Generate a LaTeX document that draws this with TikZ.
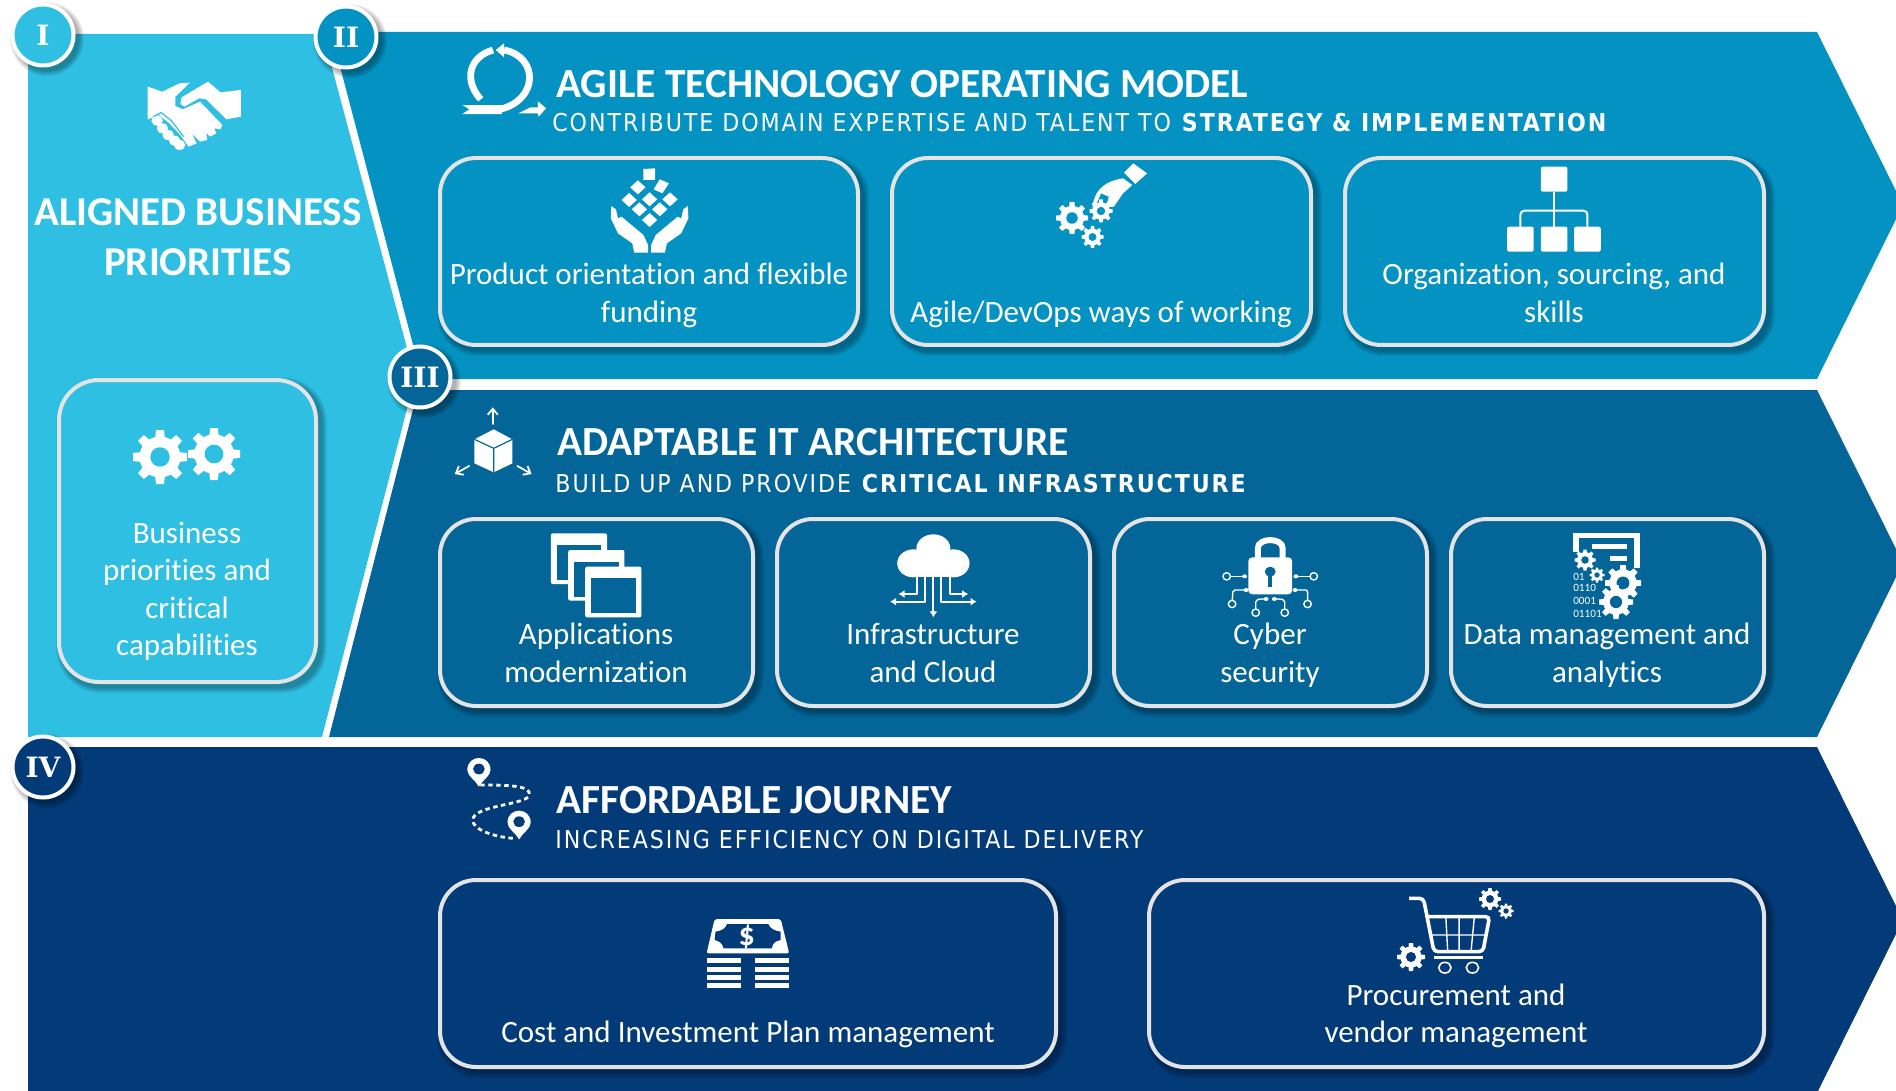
\documentclass[tikz,border=0pt]{standalone}
\usepackage{fontspec}
\usetikzlibrary{arrows.meta}
\setmainfont{Carlito}[Ligatures=NoCommon]
\newfontfamily\subf{DejaVu Sans Condensed}[LetterSpace=7.8]
\newfontfamily\numf{DejaVu Serif}
\definecolor{cA}{HTML}{2FBFE3}
\definecolor{cB}{HTML}{0392C1}
\definecolor{cC}{HTML}{036598}
\definecolor{cD}{HTML}{033A78}
\definecolor{edge}{HTML}{E4E4E4}
\tikzset{
  zm/.style n args={3}{shift={(#1,#2)},x=0.5pt/#3,y=-0.16667pt},
  boxst/.style={draw=edge,line width=2pt,inner sep=0pt,outer sep=0pt},
  lbl/.style={text=white,anchor=base,inner sep=0pt,font=\fontsize{15.5}{18}\selectfont},
  blbl/.style={text=white,anchor=base,inner sep=0pt,align=center,font=\fontsize{20.5}{24}\selectfont\bfseries},
  head/.style={text=white,anchor=base west,inner sep=0pt,font=\fontsize{20.7}{24}\selectfont\bfseries},
  sub/.style={text=white,anchor=base west,inner sep=0pt,font=\subf\fontsize{12.3}{15}\selectfont},
  numc/.style={circle,draw=white,line width=2pt,minimum size=30.5pt,inner sep=0pt,text=white,font=\numf\bfseries\fontsize{14}{16}\selectfont},
  wl/.style={draw=white,line cap=round,line join=round},
}
\newcommand\softshadow[5]{%
  \foreach \g in {0,1,...,5}{%
    \fill[black,opacity=.055,rounded corners={(#5+\g)*0.5pt}] ({#1+4-\g},{#2+4-\g}) rectangle ({#3+4+\g},{#4+4+\g});}}
\newcommand\bx[7]{%
  \softshadow{#2}{#3}{#4}{#5}{#6}%
  \pgfmathsetmacro\bw{(#4-#2-4)*.5}\pgfmathsetmacro\bh{(#5-#3-4)*.5}%
  \node[boxst,fill=#7,minimum width=\bw pt,minimum height=\bh pt,rounded corners={#6*0.5pt}] (#1) at ({(#2+#4)/2},{(#3+#5)/2}) {};}
\newcommand\numcirc[5]{%
  \foreach \g in {0,1,...,5}{\fill[black,opacity=.06] ({#2+4},{#3+4}) circle[radius={32+\g}];}%
  \node[numc,fill=#5] (#1) at (#2,#3) {#4};}
\newcommand\gearat[5]{%
  \fill[white] (#1,#2) circle[radius={.76*#3}];
  \foreach \a in {0,45,...,315}{%
    \fill[white,shift={(#1,#2)},rotate=\a] ({-.2*#3},{.5*#3}) -- ({-.15*#3},{#3}) -- ({.15*#3},{#3}) -- ({.2*#3},{.5*#3}) -- cycle;}
  \fill[#5] (#1,#2) circle[radius={.36*#3}];}
\begin{document}
\begin{tikzpicture}[x=0.5pt,y=-0.5pt]
\useasboundingbox (0,0) rectangle (1896,1091);
\clip (0,0) rectangle (1896,1091);
% bands
\fill[cD] (28,747) -- (1817,747) -- (1903,920) -- (1817,1093) -- (28,1093) -- cycle;
\fill[cC] (418,390) -- (1817,390) -- (1903,563) -- (1817,737) -- (329,737) -- cycle;
\fill[cB] (331,32) -- (1817,32) -- (1903,205) -- (1817,379) -- (422,379) -- cycle;
\fill[cA] (28,34) -- (323,34) -- (415,378) -- (322,737) -- (28,737) -- cycle;
% boxes
\bx{b1}{438}{156}{860}{347}{36}{cB}
\bx{b2}{890}{156}{1313}{347}{36}{cB}
\bx{b3}{1343}{156}{1766}{347}{36}{cB}
\bx{c1}{438}{517}{755}{708}{36}{cC}
\bx{c2}{775}{517}{1092}{708}{36}{cC}
\bx{c3}{1112}{517}{1429}{708}{36}{cC}
\bx{c4}{1449}{517}{1766}{708}{36}{cC}
\bx{d1}{438}{878}{1058}{1069}{36}{cD}
\bx{d2}{1147}{878}{1766}{1069}{36}{cD}
\bx{a1}{57}{378}{318}{684}{40}{cA}
% number circles
\numcirc{nI}{43}{35}{I}{cA}
\numcirc{nII}{346}{37}{II}{cB}
\numcirc{nIII}{420}{377}{III}{cC}
\numcirc{nIV}{43}{767}{IV}{cD}
% titles
\node[blbl] (tA1) at (198,226) {ALIGNED BUSINESS};
\node[blbl] (tA2) at (198,276) {PRIORITIES};
\node[head] (hB) at (556,98) {AGILE TECHNOLOGY OPERATING MODEL};
\node[sub] (sB) at (552,132) {CONTRIBUTE DOMAIN EXPERTISE AND TALENT TO \textbf{STRATEGY \& IMPLEMENTATION}};
\node[head] (hC) at (557,455) {ADAPTABLE IT ARCHITECTURE};
\node[sub] (sC) at (555,492) {BUILD UP AND PROVIDE \textbf{CRITICAL INFRASTRUCTURE}};
\node[head] (hD) at (556,813) {AFFORDABLE JOURNEY};
\node[sub] (sD) at (555,848) {INCREASING EFFICIENCY ON DIGITAL DELIVERY};
% box labels
\node[lbl] (l1a) at (649,285) {Product orientation and flexible};
\node[lbl] (l1b) at (649,322) {funding};
\node[lbl] (l2) at (1101,322) {Agile/DevOps ways of working};
\node[lbl] (l3a) at (1554,285) {Organization, sourcing, and};
\node[lbl] (l3b) at (1554,322) {skills};
\node[lbl] (m1a) at (596,644) {Applications};
\node[lbl] (m1b) at (596,682) {modernization};
\node[lbl] (m2a) at (933,644) {Infrastructure};
\node[lbl] (m2b) at (933,682) {and Cloud};
\node[lbl] (m3a) at (1270,644) {Cyber};
\node[lbl] (m3b) at (1270,682) {security};
\node[lbl] (m4a) at (1607,644) {Data management and};
\node[lbl] (m4b) at (1607,682) {analytics};
\node[lbl] (n1) at (748,1042) {Cost and Investment Plan management};
\node[lbl] (n2a) at (1456,1005) {Procurement and};
\node[lbl] (n2b) at (1456,1042) {vendor management};
\node[lbl] (p1) at (187,543) {Business};
\node[lbl] (p2) at (187,580) {priorities and};
\node[lbl] (p3) at (187,618) {critical};
\node[lbl] (p4) at (187,655) {capabilities};
% ---- icons ----
% handshake
\begin{scope}[zm={0}{0}{2.45}]
\fill[white] (362,260) -- (398,275) -- (440,250) -- (465,248) -- (430,290) -- (430,318) -- (448,328) -- (490,305) -- (545,375) -- (540,388) -- (525,385) -- (530,400) -- (515,410) -- (505,398) -- (508,420) -- (490,425) -- (470,400) -- (482,430) -- (462,440) -- (440,402) -- (415,370) -- (390,345) -- (362,358) -- cycle;
\fill[white] (445,292) -- (510,245) -- (540,277) -- (590,270) -- (590,350) -- (555,358) -- (505,298) -- (488,295) -- (452,320) -- (442,312) -- cycle;
\foreach \p/\q in {385/362,398/385,412/405,428/422,440/435}{\fill[white] (\p,\q) circle[x radius=14,y radius=15];}
\draw[cA,line width=.6pt] (375,350) -- (395,338) -- (420,362) -- (450,410);
% loop
\draw[wl,line width=3.4pt,line cap=butt] (1178,298) .. controls (1135,240) and (1150,170) .. (1208,150);
\fill[white] (1215,150) -- (1235,130) -- (1235,172) -- cycle;
\draw[wl,line width=3.4pt,line cap=butt] (1235,150) .. controls (1320,170) and (1320,300) .. (1225,328);
\fill[white] (1133,315) -- (1230,315) -- (1230,342) -- (1133,342) -- (1150,328) -- cycle;
\fill[white] (1270,340) -- (1300,322) -- (1318,322) -- (1318,304) -- (1338,325) -- (1320,350) -- (1318,340) -- cycle;
\end{scope}
% diamonds and hands
\begin{scope}[zm={420}{150}{1.96}]
\foreach \cx/\cy in {427/112,410/150,450/148,490/148,430/178,470/178,450/210}{\fill[white] (\cx-15,\cy) -- (\cx,\cy-21) -- (\cx+15,\cy) -- (\cx,\cy+21) -- cycle;}
\fill[white] (438,57) -- (461,55) -- (461,90) -- (438,90) -- cycle;
\fill[white] (470,88) -- (488,100) -- (475,130) -- (458,118) -- cycle;
\foreach \s in {1,-1}{
\begin{scope}[shift={(450,0)},xscale=\s]
\fill[white] (-75,168) -- (-66,178) -- (-62,205) -- (-55,200) -- (-12,255) -- (-3,285) -- (-3,308) -- (-30,308) -- (-34,280) -- (-62,250) -- (-76,205) -- cycle;
\end{scope}}
% hand with gears
\fill[white] (1398,40) -- (1425,70) -- (1402,102) -- (1380,68) -- cycle;
\fill[white] (1318,175) .. controls (1320,130) and (1335,95) .. (1378,85) -- (1396,105) -- (1378,130) -- (1360,170) -- (1345,172) -- (1350,140) -- (1335,130) -- (1325,165) -- cycle;
\end{scope}
\gearat{1072}{218}{16}{8}{cB}
\gearat{1101}{211}{11.5}{8}{cB}
\gearat{1092.5}{237}{11}{8}{cB}
% org chart
\begin{scope}[zm={1200}{0}{2.253}]
\fill[white,rounded corners=1pt] (768,500) rectangle (828,575);
\foreach \xa in {692,768,843}{\fill[white,rounded corners=1pt] (\xa,680) rectangle (\xa+60,755);}
\draw[white,line width=1pt] (798,575) -- (798,680);
\draw[white,line width=1pt,rounded corners=2pt] (722,680) -- (722,632) -- (873,632) -- (873,680);
\end{scope}
% business gears
\gearat{160}{457}{27}{8}{cA}
\gearat{214}{454}{26}{8}{cA}
% cube
\begin{scope}[zm={420}{400}{2.24}]
\fill[white] (165,88) -- (207,118) -- (207,190) -- (165,217) -- (122,190) -- (122,118) -- cycle;
\draw[cC,line width=.6pt] (122,118) -- (165,145) -- (207,118) (165,145) -- (165,217);
\draw[wl,line width=.9pt,-{Straight Barb[length=3pt,width=5pt]}] (163,72) -- (163,22);
\draw[wl,line width=.9pt,-{Straight Barb[length=3pt,width=5pt]}] (110,198) -- (78,222);
\draw[wl,line width=.9pt,-{Straight Barb[length=3pt,width=5pt]}] (218,198) -- (250,222);
% windows
\foreach \xa/\ya in {293/400,332/450,370/500}{
\fill[white,rounded corners=1pt] (\xa,\ya) rectangle (\xa+126,\ya+152);
\fill[cC] (\xa+13,\ya+35) rectangle (\xa+113,\ya+140);}
% cloud
\fill[white] (1150,445) circle[x radius=38,y radius=42];
\fill[white] (1105,490) circle[x radius=36,y radius=42];
\fill[white] (1195,490) circle[x radius=36,y radius=42];
\fill[white] (1105,480) rectangle (1195,532);
\draw[wl,line width=1.1pt,line cap=butt,-{Latex[length=3pt,width=4pt]}] (1150,532) -- (1150,652);
\draw[wl,line width=1pt,line cap=butt,-{Latex[length=3pt,width=4pt]}] (1132,532) -- (1132,605) -- (1053,605);
\draw[wl,line width=1pt,line cap=butt,-{Latex[length=3pt,width=4pt]}] (1168,532) -- (1168,605) -- (1247,605);
\draw[wl,line width=1pt,line cap=butt,-{Latex[length=3pt,width=4pt]}] (1113,532) -- (1113,582) -- (1072,582);
\draw[wl,line width=1pt,line cap=butt,-{Latex[length=3pt,width=4pt]}] (1187,532) -- (1187,582) -- (1228,582);
\end{scope}
% lock and data
\begin{scope}[zm={1150}{500}{2.412}]
\draw[white,line width=3pt] (260,175) -- (260,145) .. controls (260,112) and (320,112) .. (320,145) -- (320,175);
\fill[white,rounded corners=2pt] (237,172) rectangle (343,283);
\fill[cC] (290,215) circle[x radius=13,y radius=15];
\fill[cC] (285,220) rectangle (295,260);
\foreach \ax/\ay/\bxx/\byy/\cxx/\cyy/\dx/\dy in {
 228/229/215/229/205/229/185/229,
 352/229/365/229/375/229/395/229,
 232/270/215/270/200/270/198/312,
 350/270/365/270/380/270/380/312,
 280/297/265/297/255/300/255/338,
 300/297/315/297/325/300/325/338}{
 \draw[white,line width=.7pt,rounded corners=1pt] (\ax,\ay) -- (\bxx,\byy) -- (\cxx,\cyy) -- (\dx,\dy);
 \fill[white] (\ax,\ay) circle[x radius=6,y radius=6];
 \fill[cC,draw=white,line width=.7pt] (\dx,\dy) circle[x radius=9,y radius=11];}
% data doc
\draw[white,line width=2.8pt,line cap=butt] (1027,155) -- (1027,107) -- (1175,107) -- (1175,205);
\draw[white,line width=2.4pt] (1065,140) -- (1150,140);
\draw[white,line width=2.4pt] (1110,175) -- (1150,175);
\node[text=white,anchor=base west,inner sep=0pt,font=\fontsize{5.6}{6}\selectfont] (bin1) at (1020,242) {01};
\node[text=white,anchor=base west,inner sep=0pt,font=\fontsize{5.6}{6}\selectfont] (bin2) at (1020,275) {0110};
\node[text=white,anchor=base west,inner sep=0pt,font=\fontsize{5.6}{6}\selectfont] (bin3) at (1020,312) {0001};
\node[text=white,anchor=base west,inner sep=0pt,font=\fontsize{5.6}{6}\selectfont] (bin4) at (1020,352) {01101};
\end{scope}
\gearat{1585}{560}{10.5}{8}{cC}
\gearat{1597}{575}{7.5}{8}{cC}
\gearat{1623}{583}{18}{8}{cC}
\gearat{1616}{602}{17}{8}{cC}
% route
\begin{scope}[zm={420}{740}{2.24}]
\draw[white,line width=1.4pt,dash pattern=on 2.2pt off 1.8pt] (135,135) .. controls (190,135) and (250,135) .. (245,165) .. controls (240,195) and (120,195) .. (118,240) .. controls (118,270) and (170,292) .. (210,295);
\foreach \px/\py in {132/90,222/248}{
\fill[white] (\px-26,\py) .. controls (\px-26,\py-48) and (\px+26,\py-48) .. (\px+26,\py) .. controls (\px+26,\py+18) and (\px+8,\py+30) .. (\px,\py+50) .. controls (\px-8,\py+30) and (\px-26,\py+18) .. (\px-26,\py) -- cycle;
\fill[cD] (\px,\py-3) circle[x radius=13,y radius=16];}
% money
\fill[white,rounded corners=1pt] (660,537) -- (808,537) -- (827,640) -- (642,640) -- cycle;
\fill[cD] (688,552) -- (780,552) .. controls (785,568) and (795,572) .. (808,575) -- (808,600) .. controls (795,603) and (790,610) .. (788,625) -- (680,625) .. controls (678,610) and (670,603) .. (660,600) -- (662,575) .. controls (675,572) and (683,568) .. (688,552) -- cycle;
\node[text=white,inner sep=0pt,font=\fontsize{16}{18}\selectfont\bfseries] (dollar) at (732,590) {\$};
\foreach \ya in {653,680,706,730}{
\fill[white] (642,\ya) rectangle (718,\ya+15);
\fill[white] (750,\ya) rectangle (827,\ya+15);}
\end{scope}
% cart
\begin{scope}[zm={1150}{860}{2.102}]
\draw[white,line width=1.8pt,rounded corners=2pt] (545,115) -- (575,115) -- (597,275) -- (700,275) -- (714,170) -- (582,170);
\draw[white,line width=.7pt] (590,225) -- (707,225) (622,170) -- (626,275) (650,170) -- (650,275) (682,170) -- (675,275);
\draw[white,line width=1.3pt] (597,293) -- (700,293);
\draw[white,line width=.8pt] (620,323) circle[x radius=13,y radius=16];
\draw[white,line width=.8pt] (678,323) circle[x radius=13,y radius=16];
\end{scope}
\gearat{1490}{899}{11}{8}{cD}
\gearat{1411}{957}{14}{8}{cD}
\gearat{1506}{911}{7.5}{8}{cD}
\end{tikzpicture}
\end{document}
